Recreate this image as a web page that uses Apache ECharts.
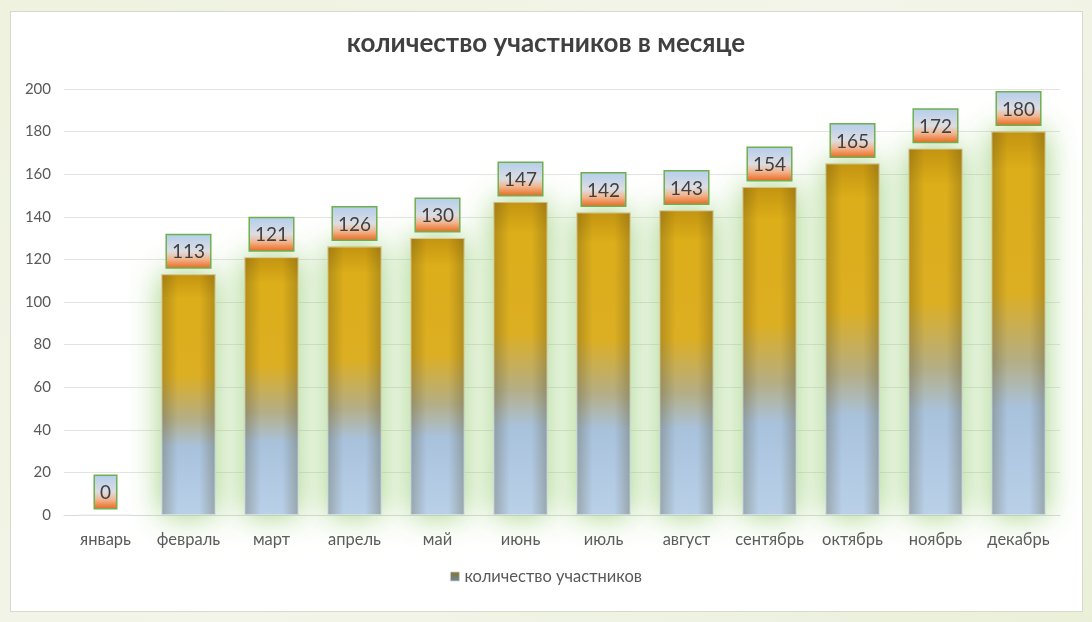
<!DOCTYPE html>
<html><head><meta charset="utf-8">
<script src="https://cdn.jsdelivr.net/npm/echarts@6/dist/echarts.min.js"></script>
<style>
html,body{margin:0;padding:0;width:1092px;height:622px;overflow:hidden;
background:linear-gradient(135deg,#eef2de 0%,#f3f5ea 50%,#eaf0d8 100%);}
#panel{position:absolute;left:10px;top:11px;width:1071px;height:599px;background:#fff;border:1px solid #d6d9cc;}
#c{position:absolute;left:0;top:0;width:1092px;height:622px;}
</style></head>
<body>
<div id="panel"></div>
<div id="c"></div>
<script>
const categories = ['январь','февраль','март','апрель','май','июнь','июль','август','сентябрь','октябрь','ноябрь','декабрь'];
const participants = [0,113,121,126,130,147,142,143,154,165,172,180];
const yTicks = {min:0, max:200, interval:20};
const titleText = 'количество участников в месяце';
const seriesName = 'количество участников';

const chart = echarts.init(document.getElementById('c'), null, {renderer:'canvas'});
const font = 'Lato, "Open Sans", "Liberation Sans", sans-serif';
const barFill = new echarts.graphic.LinearGradient(0,0,0,1,[
  {offset:0, color:'#c39410'},
  {offset:0.1, color:'#dcae1a'},
  {offset:0.42, color:'#dcae22'},
  {offset:0.6, color:'#b4ae86'},
  {offset:0.72, color:'#a9c2dc'},
  {offset:1, color:'#b9d0e8'}
]);
const edgeShade = new echarts.graphic.LinearGradient(0,0,1,0,[
  {offset:0, color:'rgba(70,60,20,0.28)'},
  {offset:0.3, color:'rgba(70,60,20,0)'},
  {offset:0.7, color:'rgba(70,60,20,0)'},
  {offset:1, color:'rgba(70,60,20,0.28)'}
]);
const labelFill = new echarts.graphic.LinearGradient(0,0,0,1,[
  {offset:0, color:'#b3cdec'},
  {offset:0.5, color:'#dcdde3'},
  {offset:0.72, color:'#f2b58e'},
  {offset:1, color:'#e9641a'}
]);
const legendFill = new echarts.graphic.LinearGradient(0,0,0,1,[
  {offset:0, color:'#8a7428'},
  {offset:0.5, color:'#7c7c58'},
  {offset:1, color:'#6c86a8'}
]);
chart.setOption({
  backgroundColor:'transparent',
  animation:false,
  title:{text:titleText,left:'center',top:26,
    textStyle:{fontFamily:font,fontSize:26,fontWeight:'bold',color:'#404040'}},
  legend:{data:[{name:seriesName,itemStyle:{color:legendFill,borderColor:'#c8d4e4',borderWidth:0.8}}],
    bottom:32,left:'center',itemWidth:9,itemHeight:9,itemGap:7,
    icon:'rect',
    textStyle:{fontFamily:font,fontSize:16.5,color:'#595959'}},
  grid:{left:64,right:32,top:89,bottom:107},
  xAxis:{type:'category',data:categories,
    axisLine:{lineStyle:{color:'#d9d9d9',width:1}},
    axisTick:{show:false},
    axisLabel:{fontFamily:font,fontSize:16.5,color:'#595959',margin:16,interval:0}},
  yAxis:{type:'value',min:yTicks.min,max:yTicks.max,interval:yTicks.interval,
    axisLine:{show:false},axisTick:{show:false},
    splitLine:{lineStyle:{color:'#e3e3e3',width:1}},
    axisLabel:{fontFamily:font,fontSize:15,color:'#595959',margin:13}},
  series:[{
    name:seriesName,type:'bar',data:participants,barWidth:54,
    itemStyle:{color:barFill,shadowBlur:32,shadowColor:'rgba(150,205,115,0.95)'},
    label:{show:true,position:'top',distance:7,
      fontFamily:font,fontSize:19,color:'#404040',
      backgroundColor:labelFill,borderColor:'#6fb04e',borderWidth:1.5,
      padding:[6,5,4,5],lineHeight:22}
  },{
    name:'shade',type:'bar',data:participants,barWidth:54,barGap:'-100%',silent:true,
    itemStyle:{color:edgeShade,borderColor:'rgba(230,235,240,0.8)',borderWidth:0.8},
    label:{show:false},z:3
  }]
});
</script>
</body></html>
